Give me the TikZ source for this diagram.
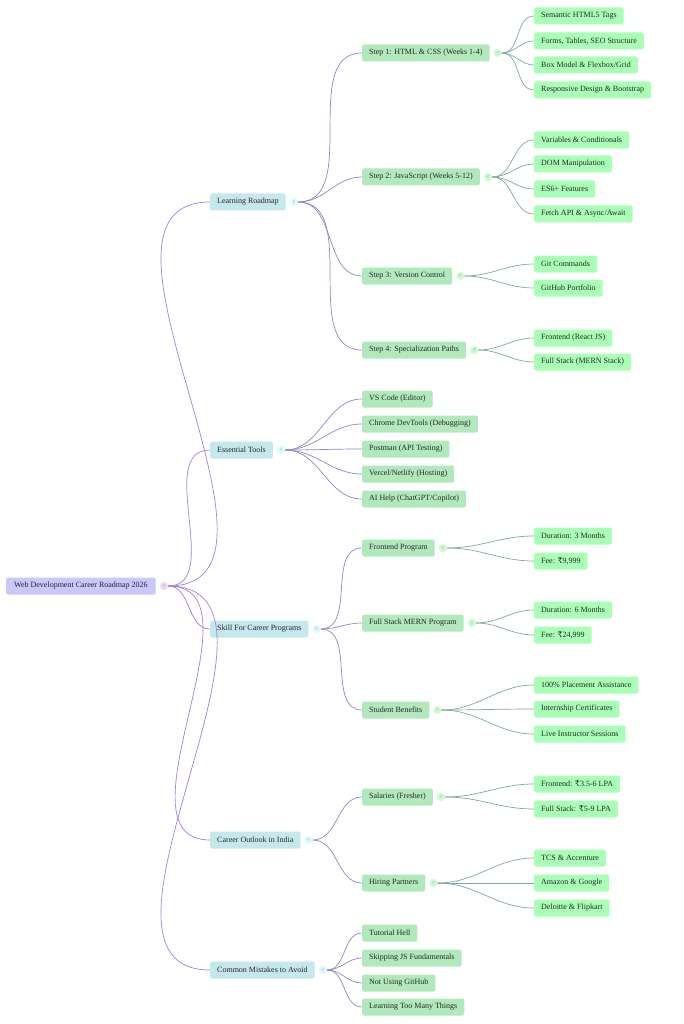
\documentclass[tikz,border=0pt]{standalone}
\usepackage{fontspec}
\setmainfont{Liberation Serif}
\newfontfamily\dvs{DejaVu Serif}
\newcommand\rupee{{\dvs ₹}}
\begin{document}
\begin{tikzpicture}[x=1pt,y=-1pt,
 box/.style={rounded corners=2pt,minimum height=17pt,inner xsep=7pt,inner ysep=0pt,font=\fontsize{8}{9}\selectfont,text=black!85,anchor=west},
 l0/.style={box,fill=violet!10!blue!22!white,inner xsep=8pt},
 l1/.style={box,fill=blue!10!cyan!18!white!85!gray},
 l2/.style={box,fill=teal!30!green!28!white!90!gray},
 l3/.style={box,fill=green!30!white!95!cyan},
 l1e/.style={draw=blue!40!violet!50!white,line width=0.7pt},
 l2e/.style={draw=blue!30!gray!70!white,line width=0.7pt},
 l3e/.style={draw=teal!40!gray!70!white,line width=0.7pt},
 mk/.style={circle,inner sep=0pt,minimum size=8pt,font=\fontsize{5}{5}\selectfont,text=gray},
 mk0/.style={mk,fill=blue!18!violet!15!white},
 mk1/.style={mk,fill=blue!15!cyan!15!white},
 mk2/.style={mk,fill=teal!20!green!20!white},
]
\path[use as bounding box,fill=white] (0,0) rectangle (683,1024);
\newcommand\ch[6]{\node[#1] (#2) at (#3,#4) {#5}; \draw[#1e] (#6) to[out=0,in=180] (#2.west);}
\newcommand\mk[2]{\node[#2] (#1m) at ([xshift=8pt]#1.east) {<};}
\node[l0] (r) at (6,586) {Web Development Career Roadmap 2026};
\mk{r}{mk0}
% level 1
\ch{l1}{a}{210}{202}{Learning Roadmap}{rm}
\ch{l1}{b}{210}{450}{Essential Tools}{rm}
\ch{l1}{c}{210}{629}{Skill For Career Programs}{rm}
\ch{l1}{d}{210}{840}{Career Outlook in India}{rm}
\ch{l1}{e}{210}{970}{Common Mistakes to Avoid}{rm}
\mk{a}{mk1}\mk{b}{mk1}\mk{c}{mk1}\mk{d}{mk1}\mk{e}{mk1}
% level 2
\ch{l2}{a1}{362}{53}{Step 1: HTML \& CSS (Weeks 1-4)}{am}
\ch{l2}{a2}{362}{177}{Step 2: JavaScript (Weeks 5-12)}{am}
\ch{l2}{a3}{362}{276}{Step 3: Version Control}{am}
\ch{l2}{a4}{362}{350}{Step 4: Specialization Paths}{am}
\ch{l2}{b1}{362}{399}{VS Code (Editor)}{bm}
\ch{l2}{b2}{362}{424}{Chrome DevTools (Debugging)}{bm}
\ch{l2}{b3}{362}{449}{Postman (API Testing)}{bm}
\ch{l2}{b4}{362}{474}{Vercel/Netlify (Hosting)}{bm}
\ch{l2}{b5}{362}{499}{AI Help (ChatGPT/Copilot)}{bm}
\ch{l2}{c1}{362}{548}{Frontend Program}{cm}
\ch{l2}{c2}{362}{623}{Full Stack MERN Program}{cm}
\ch{l2}{c3}{362}{710}{Student Benefits}{cm}
\ch{l2}{d1}{362}{797}{Salaries (Fresher)}{dm}
\ch{l2}{d2}{362}{883}{Hiring Partners}{dm}
\ch{l2}{e1}{362}{933}{Tutorial Hell}{em}
\ch{l2}{e2}{362}{958}{Skipping JS Fundamentals}{em}
\ch{l2}{e3}{362}{983}{Not Using GitHub}{em}
\ch{l2}{e4}{362}{1007}{Learning Too Many Things}{em}
\mk{a1}{mk2}\mk{a2}{mk2}\mk{a3}{mk2}\mk{a4}{mk2}
\mk{c1}{mk2}\mk{c2}{mk2}\mk{c3}{mk2}\mk{d1}{mk2}\mk{d2}{mk2}
% level 3
\ch{l3}{s1}{534}{16}{Semantic HTML5 Tags}{a1m}
\ch{l3}{s2}{534}{41}{Forms, Tables, SEO Structure}{a1m}
\ch{l3}{s3}{534}{65}{Box Model \& Flexbox/Grid}{a1m}
\ch{l3}{s4}{534}{90}{Responsive Design \& Bootstrap}{a1m}
\ch{l3}{j1}{534}{140}{Variables \& Conditionals}{a2m}
\ch{l3}{j2}{534}{164}{DOM Manipulation}{a2m}
\ch{l3}{j3}{534}{189}{ES6+ Features}{a2m}
\ch{l3}{j4}{534}{214}{Fetch API \& Async/Await}{a2m}
\ch{l3}{g1}{534}{264}{Git Commands}{a3m}
\ch{l3}{g2}{534}{288}{GitHub Portfolio}{a3m}
\ch{l3}{p1}{534}{338}{Frontend (React JS)}{a4m}
\ch{l3}{p2}{534}{362}{Full Stack (MERN Stack)}{a4m}
\ch{l3}{f1}{534}{536}{Duration: 3 Months}{c1m}
\ch{l3}{f2}{534}{561}{Fee: \rupee9,999}{c1m}
\ch{l3}{m1}{534}{610}{Duration: 6 Months}{c2m}
\ch{l3}{m2}{534}{635}{Fee: \rupee24,999}{c2m}
\ch{l3}{u1}{534}{685}{100\% Placement Assistance}{c3m}
\ch{l3}{u2}{534}{709}{Internship Certificates}{c3m}
\ch{l3}{u3}{534}{734}{Live Instructor Sessions}{c3m}
\ch{l3}{y1}{534}{784}{Frontend: \rupee3.5-6 LPA}{d1m}
\ch{l3}{y2}{534}{809}{Full Stack: \rupee5-9 LPA}{d1m}
\ch{l3}{h1}{534}{858}{TCS \& Accenture}{d2m}
\ch{l3}{h2}{534}{883}{Amazon \& Google}{d2m}
\ch{l3}{h3}{534}{908}{Deloitte \& Flipkart}{d2m}
\end{tikzpicture}
\end{document}
